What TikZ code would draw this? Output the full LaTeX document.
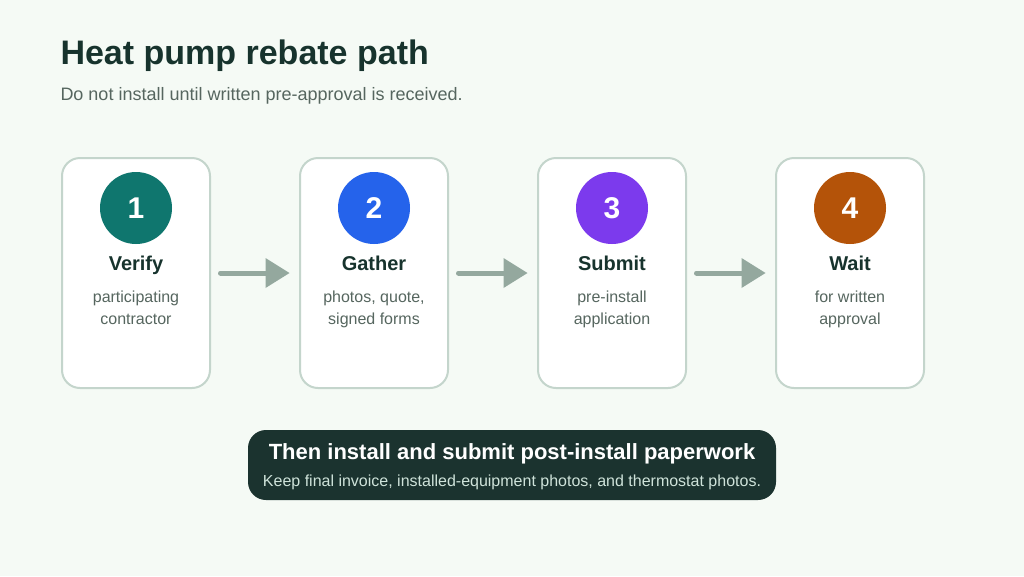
\documentclass[tikz,border=0pt]{standalone}
\usepackage{fontspec}
\setmainfont{Liberation Sans}
\usetikzlibrary{arrows.meta}
\definecolor{bg}{HTML}{F5FAF5}
\definecolor{ink}{HTML}{17332D}
\definecolor{sub}{HTML}{56665F}
\definecolor{edge}{HTML}{C4D5CC}
\definecolor{arrowc}{HTML}{94A89E}
\definecolor{banner}{HTML}{1B332F}
\definecolor{bannersub}{HTML}{CFE3DA}
\definecolor{cA}{HTML}{0F766E}
\definecolor{cB}{HTML}{2563EB}
\definecolor{cC}{HTML}{7C3AED}
\definecolor{cD}{HTML}{B45309}
\tikzset{
  x=1pt,y=-1pt,
  txt/.style={inner sep=0pt,outer sep=0pt,anchor=base},
  card/.style={draw=edge,line width=2pt,fill=white,rounded corners=18pt,minimum width=148pt,minimum height=230pt,inner sep=0pt,anchor=center},
  badge/.style={circle,minimum size=72pt,inner sep=0pt,text=white,font=\fontsize{30}{30}\selectfont\bfseries},
  steptitle/.style={txt,text=ink,font=\fontsize{20}{20}\selectfont\bfseries},
  stepdesc/.style={txt,text=sub,font=\fontsize{16}{16}\selectfont},
  link/.style={draw=arrowc,fill=arrowc,line width=5pt,line cap=round,-{Triangle[sharp,length=24pt,width=30pt,line width=0pt]}},
}
\begin{document}
\begin{tikzpicture}
\useasboundingbox (0,0) rectangle (1024,576);
\fill[bg] (0,0) rectangle (1024,576);
\node[txt,anchor=base west,text=ink,font=\fontsize{34}{34}\selectfont\bfseries] (title) at (60.5,64) {Heat pump rebate path};
\node[txt,anchor=base west,text=sub,font=\fontsize{18}{18}\selectfont] (subtitle) at (60.5,100) {Do not install until written pre-approval is received.};

\node[card] (c1) at (136,273) {};
\node[card] (c2) at (374,273) {};
\node[card] (c3) at (612,273) {};
\node[card] (c4) at (850,273) {};

\node[badge,fill=cA] (b1) at (136,208) {1};
\node[badge,fill=cB] (b2) at (374,208) {2};
\node[badge,fill=cC] (b3) at (612,208) {3};
\node[badge,fill=cD] (b4) at (850,208) {4};

\node[steptitle] (t1) at (136,270) {Verify};
\node[steptitle] (t2) at (374,270) {Gather};
\node[steptitle] (t3) at (612,270) {Submit};
\node[steptitle] (t4) at (850,270) {Wait};

\node[stepdesc] (d1a) at (136,302) {participating};
\node[stepdesc] (d1b) at (136,324) {contractor};
\node[stepdesc] (d2a) at (374,302) {photos, quote,};
\node[stepdesc] (d2b) at (374,324) {signed forms};
\node[stepdesc] (d3a) at (612,302) {pre-install};
\node[stepdesc] (d3b) at (612,324) {application};
\node[stepdesc] (d4a) at (850,302) {for written};
\node[stepdesc] (d4b) at (850,324) {approval};

\draw[link,shorten <=9.5pt,shorten >=9.5pt] (c1.east) -- (c2.west);
\draw[link,shorten <=9.5pt,shorten >=9.5pt] (c2.east) -- (c3.west);
\draw[link,shorten <=9.5pt,shorten >=9.5pt] (c3.east) -- (c4.west);

\node[fill=banner,rounded corners=18pt,minimum width=528pt,minimum height=70pt,inner sep=0pt] (banner) at (512,465) {};
\node[txt,text=white,font=\fontsize{22}{22}\selectfont\bfseries] (bt) at (512,459) {Then install and submit post-install paperwork};
\node[txt,text=bannersub,font=\fontsize{16}{16}\selectfont] (bs) at (512,486) {Keep final invoice, installed-equipment photos, and thermostat photos.};
\end{tikzpicture}
\end{document}
